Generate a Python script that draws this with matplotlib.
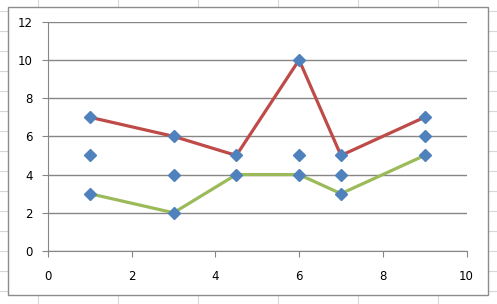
import matplotlib
matplotlib.use('Agg')
import matplotlib.pyplot as plt
from matplotlib.patches import Rectangle
from matplotlib.lines import Line2D

# Series data
x_vals = [1, 3, 4.5, 6, 7, 9]
red_y = [7, 6, 5, 10, 5, 7]
green_y = [3, 2, 4, 4, 3, 5]
mid_x = [1, 3, 6, 7, 9]
mid_y = [5, 4, 5, 4, 6]

W, H = 497, 304
fig = plt.figure(figsize=(W / 100, H / 100), dpi=100)
fig.patch.set_facecolor('white')

# Spreadsheet cell grid behind the chart
cell_col = '#d4d8de'
for px in range(38, W, 80):
    fig.add_artist(Line2D([px / W, px / W], [0, 1], color=cell_col, lw=0.8))
for py in range(11, H, 20):
    fig.add_artist(Line2D([0, 1], [1 - py / H, 1 - py / H], color=cell_col, lw=0.8))

# Chart area
fig.add_artist(Rectangle((8 / W, 1 - 295 / H), (488 - 8) / W, (295 - 7) / H,
                         facecolor='white', edgecolor='#8c8c8c', lw=1.0,
                         transform=fig.transFigure, zorder=2))

ax = fig.add_axes([48 / W, 1 - 251 / H, (466.5 - 48) / W, (251 - 21.7) / H], zorder=3)
ax.patch.set_alpha(0)

ax.plot(x_vals, red_y, color='#be4b48', lw=2.3, solid_capstyle='round', zorder=3)
ax.plot(x_vals, green_y, color='#9bbb59', lw=2.3, solid_capstyle='round', zorder=3)
ax.plot(x_vals, red_y, 'D', color='#4f81bd', ms=6, mec='#4f81bd', zorder=4)
ax.plot(x_vals, green_y, 'D', color='#4f81bd', ms=6, mec='#4f81bd', zorder=4)
ax.plot(mid_x, mid_y, 'D', color='#4f81bd', ms=6, mec='#4f81bd', zorder=4)

ax.set_xlim(0, 10)
ax.set_ylim(0, 12)
ax.set_xticks(range(0, 11, 2))
ax.set_yticks(range(0, 13, 2))
ax.yaxis.grid(True, color='#868686', lw=1.0)
ax.set_axisbelow(True)
for s in ['top', 'right']:
    ax.spines[s].set_visible(False)
for s in ['left', 'bottom']:
    ax.spines[s].set_color('#868686')
ax.tick_params(axis='both', colors='#868686', labelcolor='black', labelsize=8.5, length=4)
ax.tick_params(axis='x', pad=10)
ax.tick_params(axis='y', pad=7)

fig.savefig('out.png', dpi=100)
